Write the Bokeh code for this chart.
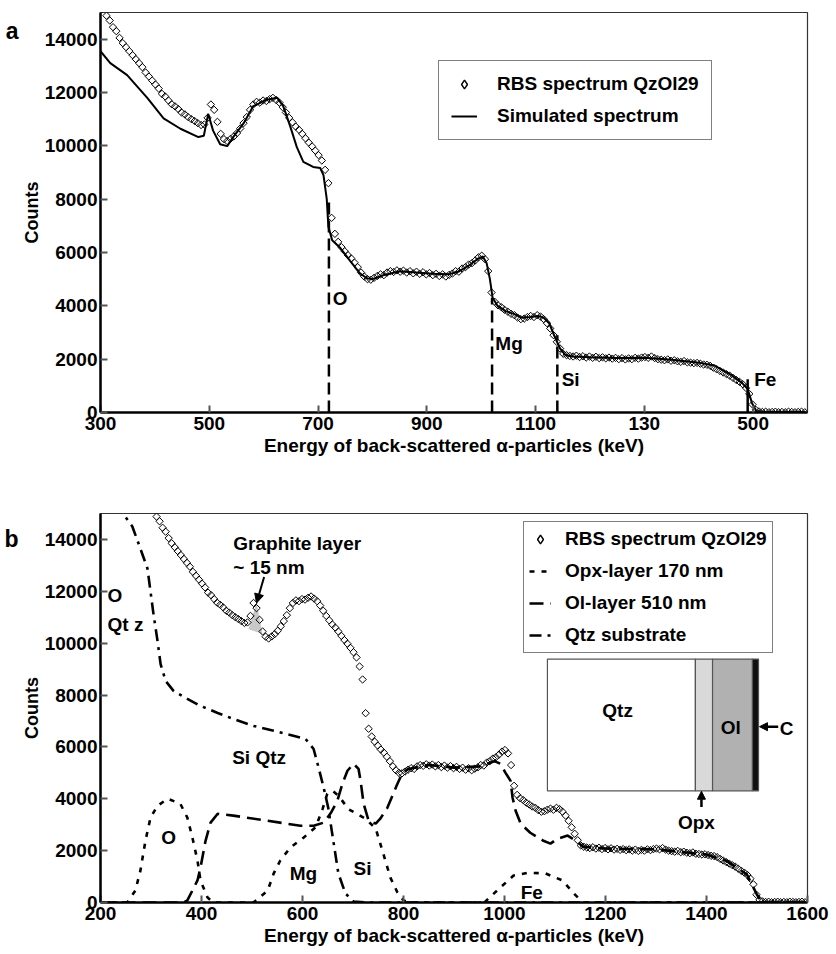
import numpy as np
from bokeh.plotting import figure
from bokeh.layouts import column
from bokeh.models import (Range1d, FixedTicker, Legend, LegendItem, Label,
                          Arrow, NormalHead, LinearAxis)
from bokeh.embed import file_html
from bokeh.resources import INLINE

FONT = "Liberation Sans"

# ---------------- data ----------------
# RBS spectrum QzOl29 (channel grid every 6 keV from 305 keV)
rbs_counts = [
    15150, 14880, 14700, 14450, 14300, 14050, 13850, 13700, 13550, 13400,
    13250, 13100, 12950, 12750, 12600, 12450, 12300, 12150, 11950, 11850,
    11700, 11560, 11480, 11380, 11250, 11180, 11080, 11000, 10930, 10850,
    10780, 10800, 11050, 11550, 11350, 10900, 10450, 10250, 10180, 10260,
    10350, 10480, 10650, 10850, 11080, 11350, 11550, 11650, 11620, 11700,
    11680, 11750, 11800, 11720, 11620, 11450, 11250, 11050, 10880, 10720,
    10600, 10450, 10280, 10120, 9980, 9820, 9650, 9450, 9100, 8600,
    7300, 6700, 6400, 6200, 6050, 5900, 5780, 5620, 5450, 5250,
    5100, 5000, 4980, 5050, 5120, 5180, 5150, 5250, 5300, 5270,
    5330, 5280, 5320, 5250, 5300, 5220, 5280, 5200, 5260, 5180,
    5230, 5150, 5200, 5120, 5180, 5100, 5160, 5210, 5300, 5280,
    5400, 5450, 5550, 5600, 5700, 5820, 5880, 5750, 5300, 4500,
    4150, 4020, 3950, 3850, 3780, 3700, 3650, 3560, 3500, 3520,
    3580, 3620, 3580, 3650, 3600, 3500, 3350, 3150, 2900, 2650,
    2400, 2200, 2150, 2120, 2100, 2130, 2080, 2110, 2060, 2100,
    2050, 2090, 2040, 2070, 2030, 2060, 2020, 2050, 2000, 2040,
    1990, 2030, 2000, 2050, 2020, 2060, 2080, 2050, 2100, 2040,
    2000, 1980, 1960, 1990, 1940, 1960, 1920, 1900, 1930, 1880,
    1870, 1850, 1860, 1830, 1800, 1790, 1750, 1680, 1620, 1560,
    1500, 1440, 1380, 1300, 1220, 1150, 1060, 920, 700, 300,
    100, 40, 20, 30, 10, 20, 30, 10, 20, 10,
    30, 20, 10, 20, 30, 10,
]
rbs_energy = [305 + 6 * i for i in range(len(rbs_counts))]

# Simulated spectrum (panel a)
sim_energy = [300, 318, 349, 386, 416, 447, 480, 490, 498, 507, 520, 533, 544,
              563, 581, 606, 625, 636, 649, 661, 673, 691, 704, 710, 716, 719,
              726, 740, 759, 777, 790, 800, 820, 850, 880, 910, 940, 960, 980,
              995, 1003, 1010, 1016, 1021, 1030, 1045, 1060, 1075, 1090, 1105,
              1115, 1125, 1135, 1145, 1155, 1170, 1200, 1250, 1300, 1350, 1400,
              1430, 1460, 1480, 1490, 1498, 1506, 1520, 1595]
sim_counts = [13550, 13100, 12650, 11800, 11030, 10640, 10330, 10380, 11200,
              10570, 10060, 9990, 10330, 10840, 11490, 11730, 11800, 11490,
              10720, 9950, 9400, 9210, 9170, 8900, 8010, 6970, 6460, 6190,
              5690, 5220, 5030, 5000, 5150, 5300, 5250, 5200, 5180, 5300,
              5550, 5780, 5850, 5600, 5000, 4300, 4000, 3800, 3700, 3550,
              3580, 3620, 3550, 3350, 2850, 2400, 2150, 2100, 2070, 2040,
              2050, 1980, 1870, 1750, 1400, 1100, 880, 350, 60, 20, 20]

# element edges (panel a)
edge_names = ["O", "Mg", "Si", "Fe"]
edge_energy = [720, 1020, 1140, 1490]
edge_top = [8000, 4300, 2900, 1250]

# Qtz substrate simulation (panel b)
qtz_energy = [225, 246, 263, 278, 293, 305, 313, 319, 329, 345, 372, 398, 432,
              463, 503, 543, 576, 606, 622, 632, 642, 651, 661, 671, 685, 701,
              725, 1600]
qtz_counts = [16500, 14960, 14500, 13700, 12880, 11110, 10080, 9190, 8540,
              8150, 7850, 7580, 7310, 7080, 6810, 6620, 6460, 6310, 5920,
              5190, 4420, 3650, 2380, 1120, 350, 40, 0, 0]

# Ol-layer 510 nm simulation (panel b)
ol_energy = [200, 365, 372, 392, 398, 408, 418, 432, 463, 531, 596, 622, 642,
             656, 669, 679, 689, 701, 711, 715, 721, 731, 745, 754, 768, 788,
             798, 810, 850, 900, 950, 980, 992, 1002, 1012, 1016, 1022, 1032,
             1051, 1077, 1091, 1105, 1125, 1140, 1156, 1200, 1300, 1400, 1440,
             1480, 1500, 1510, 1600]
ol_counts = [0, 0, 80, 850, 1350, 2380, 3080, 3420, 3350, 3150, 2960, 2960,
             3080, 3450, 3920, 4580, 5080, 5350, 5150, 4690, 3810, 3150, 3040,
             3230, 3650, 4580, 5000, 5150, 5300, 5200, 5250, 5450, 5350, 5000,
             4690, 4040, 3540, 3040, 2690, 2380, 2270, 2460, 2580, 2400, 2150,
             2080, 2050, 1850, 1600, 1080, 300, 0, 0]

# Opx-layer 170 nm simulation (panel b)
opx_energy = [200, 253, 269, 279, 289, 299, 313, 333, 358, 372, 382, 392, 398,
              412, 424, 503, 531, 543, 556, 576, 602, 626, 640, 649, 660, 672,
              691, 725, 745, 754, 764, 774, 788, 800, 812, 960, 968, 992, 1018,
              1047, 1081, 1115, 1137, 1156, 1600]
opx_counts = [0, 0, 460, 1230, 2380, 3270, 3730, 4000, 3810, 3270, 2500, 1620,
              850, 190, 0, 0, 460, 1120, 1620, 2120, 2500, 2900, 3620, 4190,
              4300, 4100, 3600, 3230, 2850, 2270, 1620, 960, 385, 80, 0, 0,
              150, 580, 1040, 1150, 1120, 850, 350, 0, 0]

# graphite-layer shaded area (panel b)
graphite_energy = [493, 509, 521]
graphite_counts = [10540, 11580, 10350]

y_ticks = [0, 2000, 4000, 6000, 8000, 10000, 12000, 14000]
top_x_ticks = [300, 500, 700, 900, 1100, 1300, 1500]
top_x_labels = ["300", "500", "700", "900", "1100", "130", "500"]
bottom_x_ticks = [200, 400, 600, 800, 1000, 1200, 1400, 1600]

XLABEL = "Energy of back-scattered \u03b1-particles (keV)"
FS = "19px"


def style(p, xticks, xlabels=None):
    p.xaxis.ticker = FixedTicker(ticks=xticks)
    p.yaxis.ticker = FixedTicker(ticks=y_ticks)
    if xlabels:
        p.xaxis.major_label_overrides = {t: l for t, l in zip(xticks, xlabels)}
    for ax in (p.xaxis[0], p.yaxis[0]):
        ax.axis_line_width = 2.5
        ax.axis_line_color = "black"
        ax.major_tick_in = 7
        ax.major_tick_out = 0
        ax.major_tick_line_color = "#555555"
        ax.major_tick_line_width = 2
        ax.minor_tick_line_color = None
        ax.major_label_text_font = FONT
        ax.major_label_text_font_style = "bold"
        ax.major_label_text_font_size = FS
        ax.major_label_text_color = "black"
        ax.axis_label_text_font = FONT
        ax.axis_label_text_font_style = "bold"
        ax.axis_label_text_font_size = FS
        ax.axis_label_text_color = "black"
    p.xaxis.major_label_standoff = 4
    p.xaxis.axis_label_standoff = 2
    p.yaxis.major_label_standoff = 3
    p.yaxis.axis_label_standoff = 0
    p.yaxis.axis_label_text_font_size = "18px"
    p.xaxis.axis_label = XLABEL
    p.yaxis.axis_label = "Counts"
    p.grid.visible = False
    p.outline_line_color = "#333333"
    p.outline_line_width = 1.2
    p.background_fill_color = "white"
    p.border_fill_color = "white"


def panel_letter(p, letter, at):
    # panel letter drawn as the only tick label of an extra, line-less left axis
    ax = LinearAxis(ticker=FixedTicker(ticks=[at]),
                    major_label_overrides={at: letter},
                    axis_line_color=None, major_tick_line_color=None,
                    minor_tick_line_color=None, major_label_standoff=0,
                    major_tick_in=0, major_tick_out=0,
                    major_label_text_font=FONT, major_label_text_font_size="23px",
                    major_label_text_font_style="bold",
                    major_label_text_color="black")
    p.add_layout(ax, "left")


def txt(p, x, y, s, size=FS, align="left", baseline="middle"):
    p.add_layout(Label(x=x, y=y, text=s, text_font=FONT, text_font_size=size,
                       text_font_style="bold", text_align=align,
                       text_baseline=baseline, text_color="black"))


def make_legend(p, items, loc, padding, spacing, lh, gw=22, standoff=14):
    lg = Legend(items=items, location=loc, margin=0, padding=padding,
                spacing=spacing, label_height=lh, glyph_height=lh,
                glyph_width=gw, label_standoff=standoff,
                label_text_font=FONT, label_text_font_style="bold",
                label_text_font_size="19px", label_text_color="black",
                border_line_color="black", border_line_width=1.2,
                background_fill_color="white", background_fill_alpha=1.0)
    p.add_layout(lg)


# ---------------- panel a ----------------
p1 = figure(width=836, height=468, x_range=Range1d(300, 1600),
            y_range=Range1d(0, 15000), output_backend="svg",
            toolbar_location=None, min_border_left=100, min_border_right=28,
            min_border_top=12, min_border_bottom=56)
style(p1, top_x_ticks, top_x_labels)
panel_letter(p1, "a", 14300)

sim = p1.line(sim_energy, sim_counts, line_width=2, line_color="black")
p1.scatter(rbs_energy, rbs_counts, marker="square", angle=np.pi / 4, size=5.2,
           fill_color=None, line_color="black", line_width=1)
proxy1 = p1.scatter([-1000], [-1000], marker="diamond", size=17,
                    fill_color=None, line_color="black", line_width=1.4)

p1.segment(x0=edge_energy[:3], y0=[0, 0, 0], x1=edge_energy[:3],
           y1=edge_top[:3], line_dash="12 6", line_width=2.5,
           line_color="black")
p1.segment(x0=edge_energy[3:], y0=[0], x1=edge_energy[3:], y1=edge_top[3:],
           line_width=2.5, line_color="black")
txt(p1, edge_energy[0] + 7, 4260, edge_names[0])
txt(p1, edge_energy[1] + 6, 2600, edge_names[1])
txt(p1, edge_energy[2] + 8, 1240, edge_names[2])
txt(p1, edge_energy[3] + 12, 1240, edge_names[3])

make_legend(p1, [LegendItem(label="RBS spectrum QzOl29", renderers=[proxy1]),
                 LegendItem(label="Simulated spectrum", renderers=[sim])],
            (338, 272), 12, 10, 22, gw=26, standoff=20)

# ---------------- panel b ----------------
p2 = figure(width=836, height=486, x_range=Range1d(200, 1600),
            y_range=Range1d(0, 15000), output_backend="svg",
            toolbar_location=None, min_border_left=100, min_border_right=29,
            min_border_top=45, min_border_bottom=52)
style(p2, bottom_x_ticks)
panel_letter(p2, "b", 14000)

# inset diagram of the layer stack
inset_left = [1085, 1378, 1412, 1491]
inset_right = [1378, 1412, 1491, 1503]
inset_fill = ["white", "#d9d9d9", "#b1b1b1", "#111111"]
p2.quad(left=inset_left, right=inset_right, bottom=4308, top=9385,
        fill_color=inset_fill, line_color="#555555", line_width=1.2)
txt(p2, 1224, 7385, "Qtz", align="center")
txt(p2, 1448, 6730, "Ol", align="center")
txt(p2, 1545, 6700, "C")
txt(p2, 1380, 3077, "Opx", align="center")
p2.add_layout(Arrow(end=NormalHead(size=8, fill_color="black", line_color="black"),
                    x_start=1542, y_start=6780, x_end=1505, y_end=6780,
                    line_width=2.5, line_color="black"))
p2.add_layout(Arrow(end=NormalHead(size=8, fill_color="black", line_color="black"),
                    x_start=1390, y_start=3680, x_end=1390, y_end=4290,
                    line_width=2.5, line_color="black"))

p2.patch(graphite_energy, graphite_counts, fill_color="#c8c8c8",
         line_color=None)

qtz = p2.line(qtz_energy, qtz_counts, line_width=2.6, line_color="black",
              line_dash="12 6 3 6")
ol = p2.line(ol_energy, ol_counts, line_width=2.6, line_color="black",
             line_dash="14 7")
opx = p2.line(opx_energy, opx_counts, line_width=2.6, line_color="black",
              line_dash="5 7")
p2.scatter(rbs_energy, rbs_counts, marker="square", angle=np.pi / 4, size=5.2,
           fill_color=None, line_color="black", line_width=1)
proxy2 = p2.scatter([-1000], [-1000], marker="diamond", size=17,
                    fill_color=None, line_color="black", line_width=1.4)

p2.add_layout(Arrow(end=NormalHead(size=9, fill_color="black", line_color="black"),
                    x_start=524, y_start=12550, x_end=509, y_end=11550,
                    line_width=2, line_color="black"))
txt(p2, 463, 13850, "Graphite layer")
txt(p2, 463, 12920, "~ 15 nm")
txt(p2, 214, 11850, "O")
txt(p2, 214, 10730, "Qt z")
txt(p2, 514, 5577, "Si Qtz", align="center")
txt(p2, 335, 2500, "O", align="center")
txt(p2, 602, 1115, "Mg", align="center")
txt(p2, 719, 1310, "Si", align="center")
txt(p2, 1054, 385, "Fe", align="center")

make_legend(p2, [LegendItem(label="RBS spectrum QzOl29", renderers=[proxy2]),
                 LegendItem(label="Opx-layer 170 nm", renderers=[opx]),
                 LegendItem(label="Ol-layer 510 nm", renderers=[ol]),
                 LegendItem(label="Qtz substrate", renderers=[qtz])],
            (423, 249), 5, 8, 24)

layout = column(p1, p2, spacing=0)
open("out.html", "w").write(file_html(layout, INLINE))
